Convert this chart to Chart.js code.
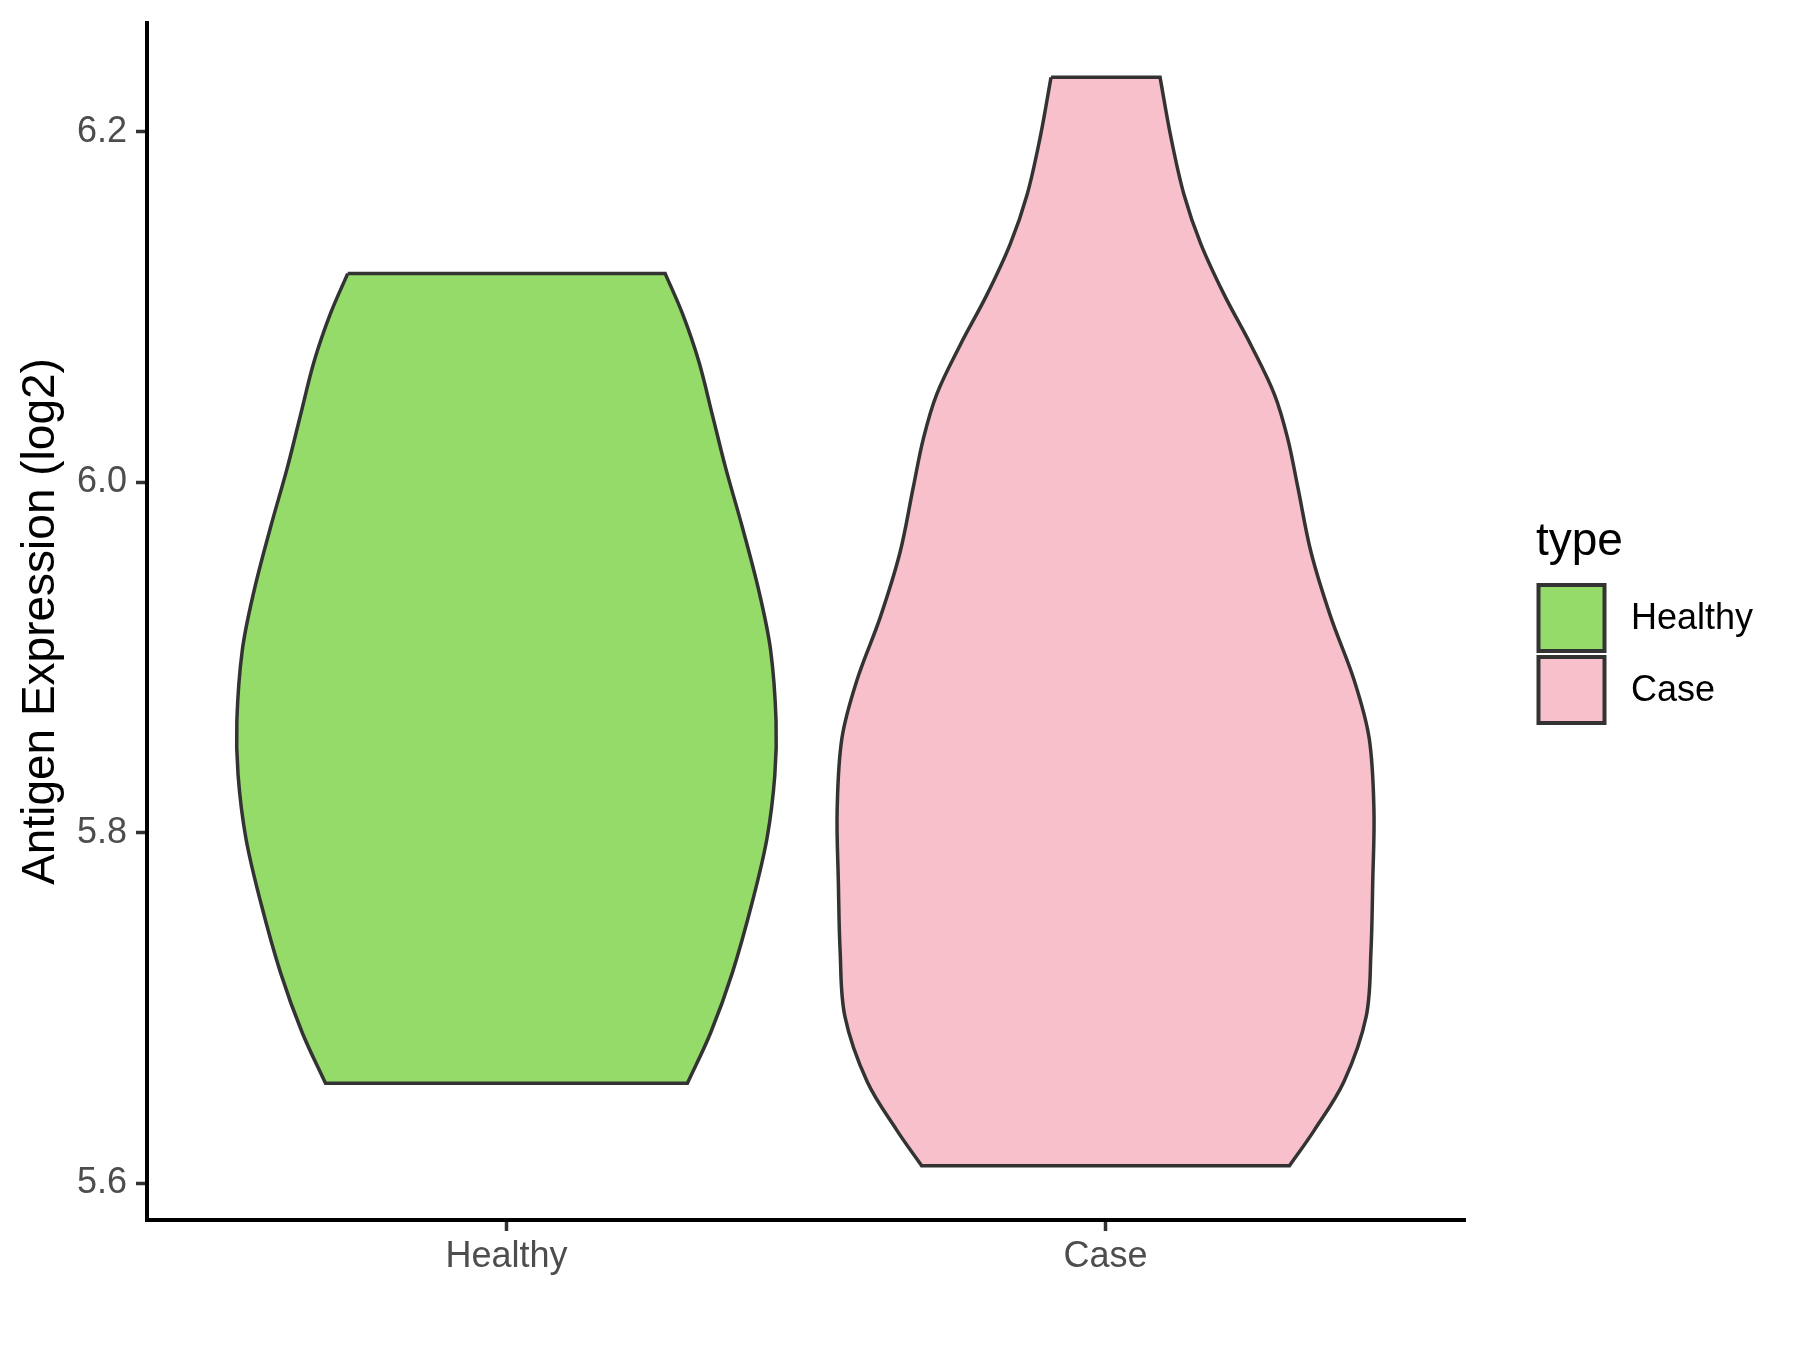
<!DOCTYPE html>
<html>
<head>
<meta charset="utf-8">
<title>Antigen Expression</title>
<script src="https://cdn.jsdelivr.net/npm/chart.js@4.4.1/dist/chart.umd.min.js"></script>
<style>
  html, body { margin: 0; padding: 0; background: #fff; }
  #wrap { width: 1800px; height: 1350px; }
</style>
</head>
<body>
<div id="wrap"><canvas id="grafico" width="1800" height="1350"></canvas></div>
<script>
// Dados (violinos: nível em log2 e meia-largura da densidade)
const categorias = ['Healthy', 'Case'];
const yTicks = [5.6, 5.8, 6.0, 6.2];

const healthyNiveis  = [6.119, 6.096, 6.069, 6.038, 6.008, 5.974, 5.937, 5.904, 5.864, 5.833, 5.797, 5.760, 5.720, 5.686, 5.657];
const healthyLarguras = [0.265, 0.294, 0.321, 0.344, 0.366, 0.394, 0.422, 0.441, 0.450, 0.448, 0.435, 0.410, 0.377, 0.341, 0.302];

const caseNiveis  = [6.231, 6.197, 6.164, 6.136, 6.107, 6.078, 6.050, 6.025, 5.997, 5.960, 5.923, 5.887, 5.854, 5.813, 5.772, 5.732, 5.695, 5.658, 5.630, 5.610];
const caseLarguras = [0.091, 0.109, 0.131, 0.159, 0.198, 0.243, 0.282, 0.304, 0.321, 0.343, 0.376, 0.415, 0.440, 0.448, 0.446, 0.443, 0.435, 0.398, 0.348, 0.307];

const cores = { Healthy: '#94DB6A', Case: '#F7C0CB' };
const fonte = "'Liberation Sans', Arial, sans-serif";

// Monta o contorno fechado do violino (lado esquerdo descendo, direito subindo)
function contorno(centro, niveis, larguras) {
  const esq = niveis.map((y, i) => ({ x: centro - larguras[i], y }));
  const dir = niveis.map((y, i) => ({ x: centro + larguras[i], y })).reverse();
  const n = esq.length;
  // cantos duplicados pra ficarem retos com a tensão da curva
  return [
    esq[0], ...esq.slice(1, n - 1), esq[n - 1], esq[n - 1],
    dir[0], dir[0], ...dir.slice(1, n - 1), dir[n - 1], dir[n - 1],
    esq[0]
  ];
}

// Legenda no estilo ggplot
const legendaPlugin = {
  id: 'legendaTipo',
  afterDraw(chart) {
    const ctx = chart.ctx;
    ctx.save();
    ctx.fillStyle = '#000';
    ctx.font = `46px ${fonte}`;
    ctx.textAlign = 'left';
    ctx.textBaseline = 'alphabetic';
    ctx.fillText('type', 1536, 555);

    categorias.forEach((c, i) => {
      const top = 585 + i * 72;
      ctx.fillStyle = cores[c];
      ctx.fillRect(1538.5, top, 66, 66);
      ctx.strokeStyle = '#333333';
      ctx.lineWidth = 4;
      ctx.strokeRect(1538.5, top, 66, 66);
      ctx.fillStyle = '#000';
      ctx.font = `36px ${fonte}`;
      ctx.textBaseline = 'middle';
      ctx.fillText(c, 1631, top + 34);
    });
    ctx.restore();
  }
};

// Zera o padding extra que o Chart.js reserva pros rótulos das pontas
const semPadding = s => { s.paddingTop = 0; s.paddingBottom = 0; s.paddingLeft = 0; s.paddingRight = 0; };

new Chart(document.getElementById('grafico').getContext('2d'), {
  type: 'scatter',
  data: {
    datasets: [
      { label: 'Healthy', data: contorno(1, healthyNiveis, healthyLarguras), backgroundColor: cores.Healthy },
      { label: 'Case', data: contorno(2, caseNiveis, caseLarguras), backgroundColor: cores.Case }
    ].map(d => ({
      ...d,
      showLine: true,
      fill: 'shape',
      borderColor: '#333333',
      borderWidth: 3.5,
      pointRadius: 0,
      pointHoverRadius: 0,
      tension: 0.35
    }))
  },
  options: {
    responsive: false,
    animation: false,
    devicePixelRatio: 1,
    layout: { padding: { top: 23, right: 335, left: 0, bottom: 0 } },
    plugins: { legend: { display: false }, tooltip: { enabled: false } },
    scales: {
      x: {
        type: 'linear',
        min: 0.4,
        max: 2.6,
        afterBuildTicks: s => { s.ticks = categorias.map((c, i) => ({ value: i + 1 })); },
        afterFit: s => { s.height = 130; semPadding(s); },
        ticks: {
          callback: v => categorias[v - 1],
          font: { family: fonte, size: 36 },
          color: '#4D4D4D',
          padding: 4,
          maxRotation: 0
        },
        grid: { display: true, drawOnChartArea: false, drawTicks: true, tickLength: 11, tickColor: '#333333', tickWidth: 3.5 },
        border: { display: true, color: '#000', width: 4 }
      },
      y: {
        min: 5.579,
        max: 6.262,
        afterBuildTicks: s => { s.ticks = yTicks.map(v => ({ value: v })); },
        afterFit: s => { s.width = 147; semPadding(s); },
        ticks: {
          callback: v => v.toFixed(1),
          font: { family: fonte, size: 36 },
          color: '#4D4D4D',
          padding: 9
        },
        grid: { display: true, drawOnChartArea: false, drawTicks: true, tickLength: 11, tickColor: '#333333', tickWidth: 3.5 },
        border: { display: true, color: '#000', width: 4 },
        title: {
          display: true,
          text: 'Antigen Expression (log2)',
          font: { family: fonte, size: 46 },
          color: '#000',
          padding: { top: 14, bottom: 0 }
        }
      }
    }
  },
  plugins: [legendaPlugin]
});
</script>
</body>
</html>
